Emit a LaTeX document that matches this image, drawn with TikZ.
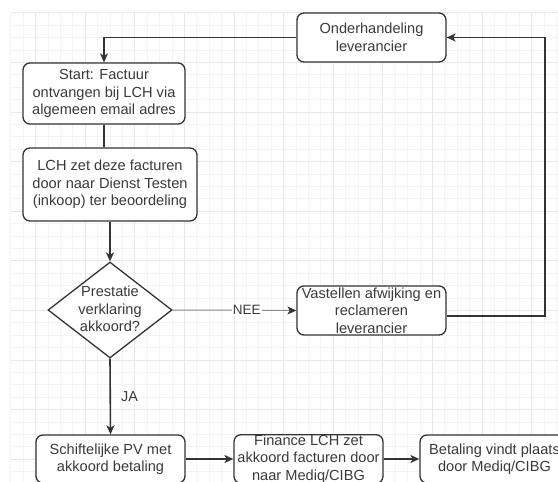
\documentclass[tikz,border=0pt]{standalone}
\usepackage{fontspec}
\setmainfont{Liberation Sans}
\usetikzlibrary{shapes.geometric,arrows.meta}
\definecolor{ink}{HTML}{333333}
\definecolor{txtc}{HTML}{3A3A3A}
\definecolor{gminor}{HTML}{F4F4F4}
\definecolor{gmajor}{HTML}{E8E8E8}
\definecolor{neeline}{HTML}{8A8A8A}
\tikzset{
  box/.style={draw=ink, line width=1.3pt, rounded corners=7pt, fill=white,
    minimum width=149pt, inner sep=0pt, align=center, text=txtc,
    font=\fontsize{14.6}{17.5}\selectfont},
  dec/.style={diamond, draw=ink, line width=1.3pt, fill=white, inner sep=0pt,
    minimum width=124pt, minimum height=96pt},
  dectext/.style={align=center, text=txtc, inner sep=0pt,
    font=\fontsize{14.6}{17.5}\selectfont},
  conn/.style={draw=ink, line width=1.6pt,
    -{Stealth[length=9pt,width=8pt,inset=2.5pt]}},
  plainconn/.style={draw=ink, line width=1.6pt},
  neeconn/.style={draw=neeline, line width=1pt,
    -{Stealth[length=9pt,width=8pt,inset=2.5pt,color=ink]}},
  lbl/.style={text=txtc, inner sep=1pt, font=\fontsize{13.5}{16}\selectfont},
  gmin/.style={draw=gminor, line width=0.8pt},
  gmaj/.style={draw=gmajor, line width=0.9pt}
}
\begin{document}
\begin{tikzpicture}[x=1pt, y=-1pt]
\useasboundingbox (0,0) rectangle (558,482);
\clip (0,0) rectangle (558,482);
\fill[white] (0,0) rectangle (558,482);
% grid
\foreach \i in {0,...,45} {
  \pgfmathsetmacro{\gx}{10.8+\i*12.4}
  \draw[gmin] (\gx,12.8) -- (\gx,482);
}
\foreach \i in {0,...,38} {
  \pgfmathsetmacro{\gy}{12.8+\i*12.4}
  \draw[gmin] (10.8,\gy) -- (558,\gy);
}
\foreach \i in {0,...,11} {
  \pgfmathsetmacro{\gx}{35.6+\i*49.6}
  \draw[gmaj] (\gx,12.8) -- (\gx,482);
}
\foreach \i in {0,...,9} {
  \pgfmathsetmacro{\gy}{12.8+\i*49.6}
  \draw[gmaj] (10.8,\gy) -- (558,\gy);
}
% nodes
\node[box, minimum width=149pt, minimum height=49pt] (ond) at (371.5,37.5) {Onderhandeling\\leverancier};
\node[box, minimum width=162pt, minimum height=61pt] (start) at (104,93.5) {Start: Factuur\\ontvangen bij LCH via\\algemeen email adres};
\node[box, minimum width=174pt, minimum height=73pt] (lch) at (110,184.5) {LCH zet deze facturen\\door naar Dienst Testen\\(inkoop) ter beoordeling};
\node[dec] (d) at (110,310) {};
\node[dectext] (dt) at (110,309) {Prestatie\\verklaring\\akkoord?};
\node[box, minimum width=149pt, minimum height=49pt] (vast) at (371.5,310.5) {Vastellen afwijking en\\reclameren\\leverancier};
\node[box, minimum width=149pt, minimum height=48pt] (schr) at (110.5,459) {Schiftelijke PV met\\akkoord betaling};
\node[box, minimum width=149pt, minimum height=48pt] (fin) at (308.5,459) {Finance LCH zet\\akkoord facturen door\\naar Mediq/CIBG};
\node[box, minimum width=149pt, minimum height=48pt] (bet) at (494.5,459) {Betaling vindt plaats\\door Mediq/CIBG};
\coordinate (cr) at (545,316);
% connectors
\draw[conn] (ond.west) -| (start.north);
\draw[plainconn] (start.south) -- (start.south |- lch.north);
\draw[conn] (lch.south) -- (d.north);
\draw[neeconn] (d.east) -- node[pos=0.6, fill=white, lbl] (nee) {NEE} (vast.west);
\draw[conn] ([yshift=-5.5pt]vast.east) -- (cr) |- (ond.east);
\draw[conn] (d.south) -- node[anchor=west, xshift=9pt, lbl, font=\fontsize{14.4}{17}\selectfont] (ja) {JA} (schr.north);
\draw[conn] (schr.east) -- (fin.west);
\draw[conn] (fin.east) -- (bet.west);
\end{tikzpicture}
\end{document}
